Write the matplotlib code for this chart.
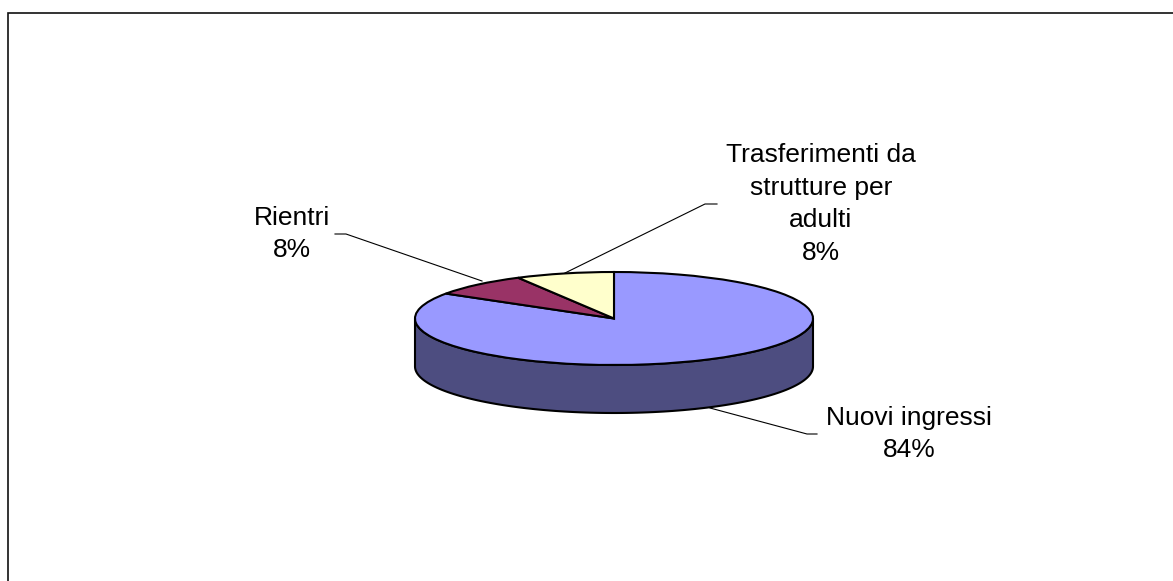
import numpy as np
from matplotlib import pyplot as plt
from matplotlib.patches import Polygon, Wedge
from matplotlib.transforms import Affine2D

# clockwise from 12 o'clock
categories = ["Nuovi ingressi", "Rientri", "Trasferimenti da\nstrutture per\nadulti"]
values = [84, 8, 8]
colors = ["#9999FF", "#993366", "#FFFFCC"]
side_color = "#4D4D80"

label_pos = [(909, 434), (292, 234), (821, 204)]
leaders = [
    [(710, 408), (807, 434), (817, 434)],
    [(482, 281), (346, 234), (335, 234)],
    [(565, 273), (705, 204), (717, 204)],
]

CX, CY = 614, 318.5
RX, RY = 199, 46.5
DEPTH = 48

plt.rcParams["font.family"] = ["Liberation Sans", "DejaVu Sans"]

fig = plt.figure(figsize=(11.73, 5.81), dpi=100)
ax = fig.add_axes([0, 0, 1, 1])
ax.set_xlim(0, 1173)
ax.set_ylim(581, 0)
ax.axis("off")

# chart frame, cut off by the right and bottom of the image
ax.plot([8, 8, 1173], [581, 13, 13], color="#111111", lw=1.2, solid_joinstyle="miter")

# side of the pie
t = np.radians(np.linspace(180, 360, 120))
front = np.column_stack([CX + RX * np.cos(t), CY - RY * np.sin(t)])
bottom = front[::-1] + [0, DEPTH]
ax.add_patch(Polygon(np.vstack([front, bottom]), closed=True, fc=side_color,
                     ec="black", lw=1.5, joinstyle="round"))

# top face, squashed circle
squash = Affine2D().scale(RX, -RY).translate(CX, CY) + ax.transData
end = 90.0
for value, color in zip(values, colors):
    start = end - value / sum(values) * 360
    ax.add_patch(Wedge((0, 0), 1, start, end, fc=color, ec="black", lw=1.5,
                       transform=squash, joinstyle="miter"))
    end = start

for points in leaders:
    xs, ys = zip(*points)
    ax.plot(xs, ys, color="black", lw=0.8)

for name, value, (x, y) in zip(categories, values, label_pos):
    ax.text(x, y, f"{name}\n{value}%", ha="center", va="center", fontsize=19,
            linespacing=1.47, color="black")

fig.savefig("out.png", dpi=100)
